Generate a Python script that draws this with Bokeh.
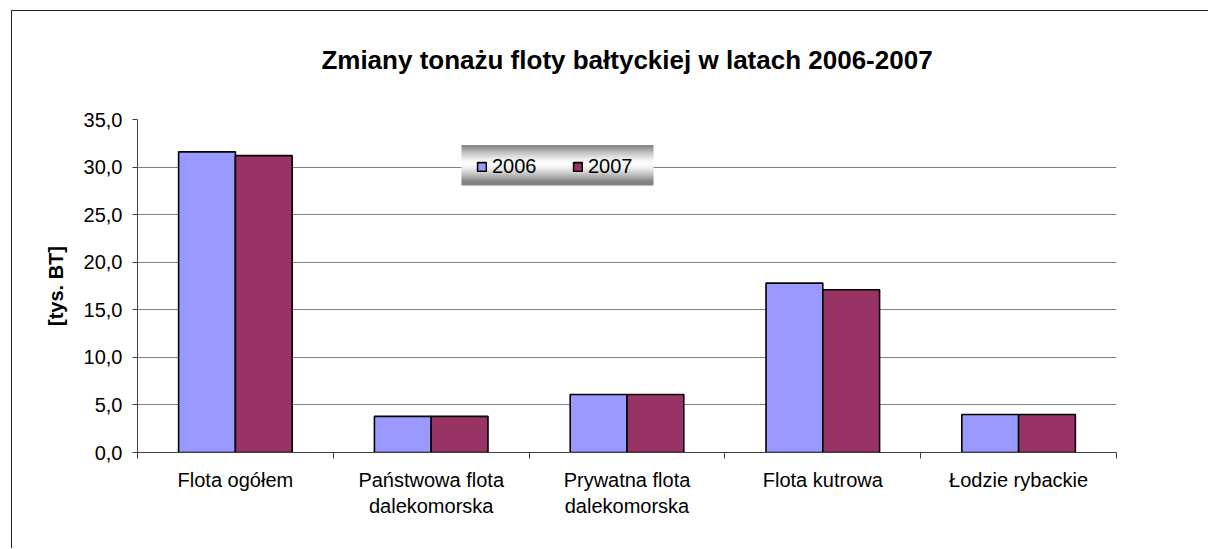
from bokeh.plotting import figure
from bokeh.models import (ColumnDataSource, Range1d, FixedTicker, CustomJSTickFormatter,
                          Legend, LegendItem, BoxAnnotation)
from bokeh.transform import dodge
from bokeh.embed import file_html
from bokeh.resources import INLINE

# ---- data ----
categories = ["Flota ogółem", "Państwowa flota\ndalekomorska", "Prywatna flota\ndalekomorska",
              "Flota kutrowa", "Łodzie rybackie"]
years = ["2006", "2007"]
values_2006 = [31.6, 3.8, 6.1, 17.8, 4.0]
values_2007 = [31.2, 3.8, 6.1, 17.1, 4.0]
y_ticks = [0, 5, 10, 15, 20, 25, 30, 35]
title_text = "Zmiany tonażu floty bałtyckiej w latach 2006-2007"
y_label = "[tys. BT]"

colors = {"2006": "#9999FF", "2007": "#993366"}
FONT = "Liberation Sans"

src = ColumnDataSource(dict(
    x=[i + 0.5 for i in range(len(categories))],
    v2006=values_2006,
    v2007=values_2007,
))

p = figure(
    width=1208, height=548,
    frame_width=979, frame_height=333,
    min_border_left=137, min_border_right=92, min_border_top=119, min_border_bottom=96,
    x_range=Range1d(0, len(categories)), y_range=Range1d(0, 35),
    output_backend="svg", toolbar_location=None,
    title=title_text,
)
# thin chart-area frame line on the left and top, drawn behind the transparent canvas border
p.styles = {"box-shadow": "inset 11px 10px 0 0 white, inset 12px 11px 0 0 #222222",
            "background-color": "white"}

p.outline_line_color = None
p.background_fill_color = "white"
p.border_fill_color = None

p.title.text_font = FONT
p.title.text_font_size = "26px"
p.title.text_font_style = "bold"
p.title.align = "center"
p.title.vertical_align = "top"
p.title.text_color = "black"
p.title.standoff = 86

bw = 0.29
r1 = p.vbar(x=dodge("x", -bw / 2, range=p.x_range), top="v2006", width=bw, source=src,
            fill_color=colors["2006"], line_color="black", line_width=1.6)
r2 = p.vbar(x=dodge("x", bw / 2, range=p.x_range), top="v2007", width=bw, source=src,
            fill_color=colors["2007"], line_color="black", line_width=1.6)

# grid
p.xgrid.grid_line_color = None
p.ygrid.grid_line_color = "#808080"
p.ygrid.grid_line_width = 1
p.ygrid.ticker = FixedTicker(ticks=y_ticks)

# y axis
ya = p.yaxis[0]
ya.ticker = FixedTicker(ticks=y_ticks)
ya.formatter = CustomJSTickFormatter(code="return tick.toFixed(1).replace('.', ',');")
ya.axis_label = y_label
ya.axis_label_text_font = FONT
ya.axis_label_text_font_size = "20px"
ya.axis_label_text_font_style = "bold"
ya.axis_label_text_color = "black"
ya.axis_label_standoff = 14
ya.major_label_text_font = FONT
ya.major_label_text_font_size = "20px"
ya.major_label_text_color = "black"
ya.major_label_standoff = 10
ya.major_tick_out = 5
ya.major_tick_in = 0
ya.minor_tick_line_color = None
ya.axis_line_color = "#404040"
ya.major_tick_line_color = "#404040"

# x axis
xa = p.xaxis[0]
xa.ticker = FixedTicker(ticks=[i + 0.5 for i in range(len(categories))],
                        minor_ticks=list(range(len(categories) + 1)))
xa.formatter = CustomJSTickFormatter(args=dict(labels=categories),
                                     code="return labels[Math.round(tick - 0.5)];")
xa.major_label_text_font = FONT
xa.major_label_text_font_size = "20px"
xa.major_label_text_color = "black"
xa.major_label_standoff = 10
xa.major_tick_line_color = None
xa.major_tick_out = 0
xa.major_tick_in = 0
xa.minor_tick_line_color = "#404040"
xa.minor_tick_out = 6
xa.minor_tick_in = 0
xa.axis_line_color = "#404040"

# legend gradient background (decoration)
lx0, lx1, ly0, ly1 = 324, 516, 267, 307
n = 20
for k in range(n):
    t = (k + 0.5) / n  # 0 bottom .. 1 top
    d = abs(t - 0.55) / 0.45
    g = int(255 - 125 * min(1.0, d) ** 1.4)
    col = "#%02x%02x%02x" % (g, g, g)
    b0 = ly0 + (ly1 - ly0) * k / n
    b1 = ly0 + (ly1 - ly0) * (k + 1) / n
    p.add_layout(BoxAnnotation(left=lx0, right=lx1, bottom=b0, top=b1 + 0.5,
                               left_units="screen", right_units="screen",
                               bottom_units="screen", top_units="screen",
                               fill_color=col, fill_alpha=1.0, line_color=None))

legend = Legend(items=[LegendItem(label=years[0], renderers=[r1]),
                       LegendItem(label=years[1], renderers=[r2])],
                location=(339, 274), orientation="horizontal")
legend.background_fill_alpha = 0
legend.border_line_color = None
legend.padding = 5
legend.margin = 0
legend.glyph_width = 11
legend.glyph_height = 11
legend.label_standoff = 5
legend.label_width = 48
legend.spacing = 32
legend.label_text_font = FONT
legend.label_text_font_size = "20px"
legend.label_text_color = "black"
p.add_layout(legend, "center")

open("out.html", "w").write(file_html(p, INLINE))
